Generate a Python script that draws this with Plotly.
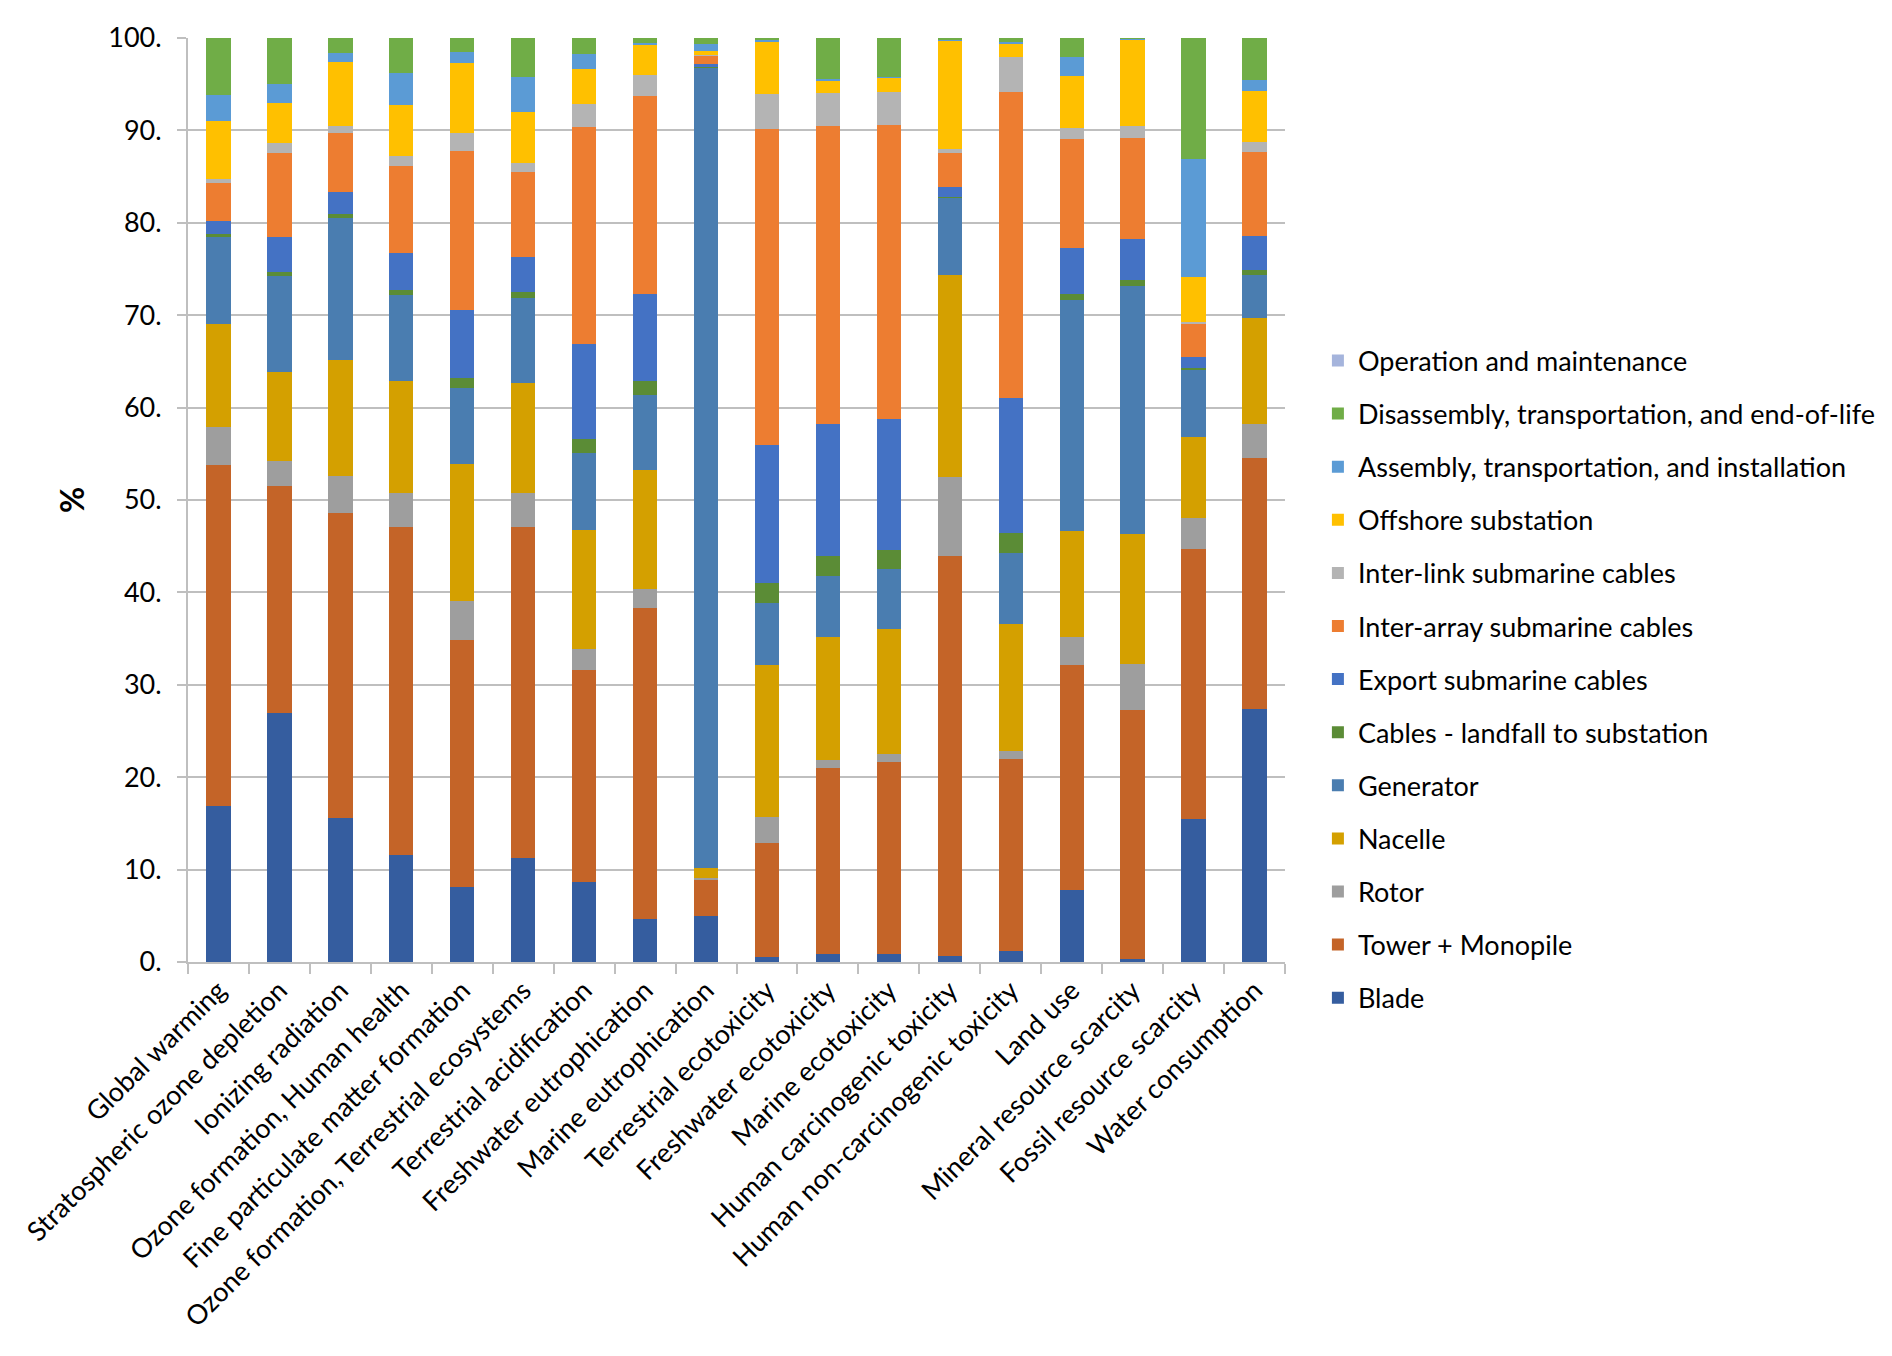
import plotly.graph_objects as go

categories = [
    "Global warming", "Stratospheric ozone depletion", "Ionizing radiation",
    "Ozone formation, Human health", "Fine particulate matter formation",
    "Ozone formation, Terrestrial ecosystems", "Terrestrial acidification",
    "Freshwater eutrophication", "Marine eutrophication", "Terrestrial ecotoxicity",
    "Freshwater ecotoxicity", "Marine ecotoxicity", "Human carcinogenic toxicity",
    "Human non-carcinogenic toxicity", "Land use", "Mineral resource scarcity",
    "Fossil resource scarcity", "Water consumption",
]

# share of each life-cycle stage (%), one value per impact category
blade = [16.9, 26.9, 15.6, 11.6, 8.1, 11.3, 8.7, 4.7, 5.0, 0.5, 0.9, 0.9, 0.6, 1.2, 7.8, 0.3, 15.5, 27.4]
tower_monopile = [36.9, 24.6, 33.0, 35.5, 26.7, 35.8, 22.9, 33.6, 3.9, 12.4, 20.1, 20.7, 43.3, 20.8, 24.3, 27.0, 29.2, 27.1]
rotor = [4.1, 2.7, 4.0, 3.7, 4.3, 3.7, 2.3, 2.1, 0.2, 2.8, 0.9, 0.9, 8.6, 0.8, 3.1, 5.0, 3.4, 3.7]
nacelle = [11.1, 9.7, 12.6, 12.1, 14.8, 11.9, 12.8, 12.9, 1.1, 16.4, 13.3, 13.5, 21.9, 13.8, 11.4, 14.0, 8.7, 11.5]
generator = [9.5, 10.3, 15.3, 9.3, 8.2, 9.2, 8.4, 8.1, 86.6, 6.7, 6.6, 6.5, 8.3, 7.7, 25.0, 26.9, 7.3, 4.6]
cables_landfall = [0.3, 0.5, 0.4, 0.5, 1.1, 0.6, 1.5, 1.5, 0.1, 2.2, 2.1, 2.1, 0.1, 2.1, 0.7, 0.6, 0.2, 0.6]
export_cables = [1.4, 3.8, 2.4, 4.0, 7.4, 3.8, 10.3, 9.4, 0.3, 15.0, 14.3, 14.2, 1.1, 14.6, 5.0, 4.5, 1.2, 3.7]
inter_array = [4.1, 9.1, 6.4, 9.4, 17.2, 9.2, 23.5, 21.4, 0.9, 34.2, 32.3, 31.8, 3.7, 33.2, 11.8, 10.9, 3.5, 9.1]
inter_link = [0.4, 1.0, 0.8, 1.1, 1.9, 1.0, 2.5, 2.3, 0.1, 3.7, 3.6, 3.6, 0.4, 3.7, 1.2, 1.3, 0.3, 1.0]
offshore_substation = [6.3, 4.4, 6.9, 5.6, 7.6, 5.5, 3.7, 3.2, 0.4, 5.7, 1.3, 1.5, 11.7, 1.5, 5.6, 9.3, 4.8, 5.6]
assembly = [2.8, 2.0, 1.0, 3.4, 1.2, 3.8, 1.7, 0.3, 0.7, 0.2, 0.2, 0.1, 0.1, 0.2, 2.0, 0.1, 12.8, 1.2]
disassembly = [6.2, 5.0, 1.6, 3.8, 1.5, 4.2, 1.7, 0.5, 0.7, 0.2, 4.4, 4.2, 0.2, 0.4, 2.1, 0.1, 13.1, 4.5]
operation = [0.0] * 18

y_ticks = [0, 10, 20, 30, 40, 50, 60, 70, 80, 90, 100]
y_tick_labels = ["0.", "10.", "20.", "30.", "40.", "50.", "60.", "70.", "80.", "90.", "100."]

series = [
    ("Blade", blade, "#355D9F"),
    ("Tower + Monopile", tower_monopile, "#C46428"),
    ("Rotor", rotor, "#9E9E9E"),
    ("Nacelle", nacelle, "#D4A000"),
    ("Generator", generator, "#4A7DB0"),
    ("Cables - landfall to substation", cables_landfall, "#5B8C36"),
    ("Export submarine cables", export_cables, "#4472C4"),
    ("Inter-array submarine cables", inter_array, "#ED7D31"),
    ("Inter-link submarine cables", inter_link, "#B4B4B4"),
    ("Offshore substation", offshore_substation, "#FFC000"),
    ("Assembly, transportation, and installation", assembly, "#5B9BD5"),
    ("Disassembly, transportation, and end-of-life", disassembly, "#70AD47"),
    ("Operation and maintenance", operation, "#A5B4DC"),
]

fig = go.Figure()
for i, (name, vals, col) in enumerate(series):
    fig.add_trace(go.Bar(x=categories, y=vals, name=name, legendgroup=name,
                         legendrank=len(series) - i,
                         marker=dict(color=col, line=dict(width=0))))

grey = "#BFBFBF"
fig.update_layout(
    width=1892, height=1356,
    barmode="stack", bargap=0.6,
    plot_bgcolor="white", paper_bgcolor="white",
    font=dict(family="Lato", size=27, color="#000000"),
    margin=dict(l=173, r=615, t=21, b=402),
    legend=dict(x=1.03, y=0.677, xanchor="left", yanchor="top",
                traceorder="grouped", tracegroupgap=15,
                font=dict(size=27), itemwidth=30),
)
fig.update_xaxes(tickangle=-45, showline=True, linecolor=grey, linewidth=2,
                 ticks="outside", tickson="boundaries", ticklen=10,
                 tickcolor=grey, tickwidth=2, showgrid=False)
fig.update_yaxes(range=[0, 100], tickvals=y_ticks, ticktext=y_tick_labels,
                 showline=True, linecolor=grey, linewidth=2,
                 ticks="outside", ticklen=9, tickcolor=grey, tickwidth=2,
                 ticklabelstandoff=10,
                 gridcolor=grey, gridwidth=2, zeroline=False,
                 title=dict(text="<b>%</b>", standoff=14))
fig.write_html("out.html")
